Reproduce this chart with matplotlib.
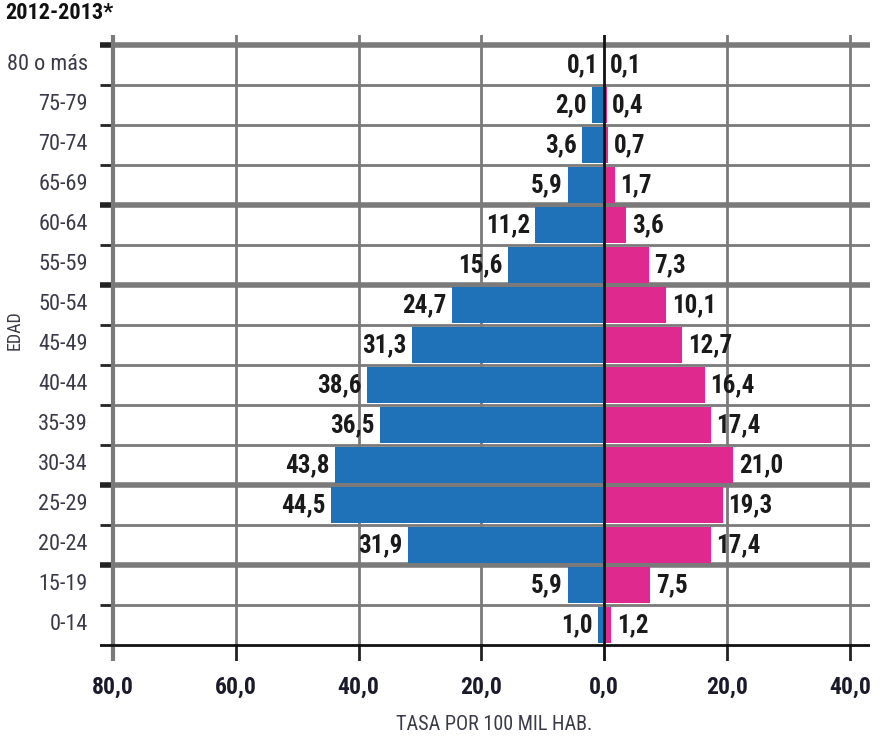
import matplotlib
matplotlib.use("Agg")
import matplotlib.pyplot as plt
from matplotlib import font_manager

edades = ['0-14', '15-19', '20-24', '25-29', '30-34', '35-39', '40-44', '45-49',
          '50-54', '55-59', '60-64', '65-69', '70-74', '75-79', '80 o más']
izquierda = [1.0, 5.9, 31.9, 44.5, 43.8, 36.5, 38.6, 31.3, 24.7, 15.6, 11.2, 5.9, 3.6, 2.0, 0.1]
derecha = [1.2, 7.5, 17.4, 19.3, 21.0, 17.4, 16.4, 12.7, 10.1, 7.3, 3.6, 1.7, 0.7, 0.4, 0.1]
xticks = [-80, -60, -40, -20, 0, 20, 40]
xtick_labels = ['80,0', '60,0', '40,0', '20,0', '0,0', '20,0', '40,0']
# row boundaries drawn with a heavier line
limites_gruesos = [1.5, 3.5, 8.5, 10.5, 14.5]

# look for a narrow font, the original uses a condensed DIN-like face
nombres = {f.name for f in font_manager.fontManager.ttflist}
fuente, ancho = 'Roboto', 'normal'
for cand in ['Liberation Sans Narrow', 'Roboto Condensed', 'Open Sans Condensed',
             'DejaVu Sans Condensed', 'Noto Sans Condensed']:
    if cand in nombres:
        fuente = cand
        break
else:
    cond = [f for f in font_manager.fontManager.ttflist
            if str(f.stretch) in ('condensed', 'semi-condensed', 'extra-condensed')
            and f.name in ('DejaVu Sans', 'Noto Sans', 'Open Sans', 'Roboto', 'Liberation Sans')]
    if cond:
        fuente, ancho = cond[0].name, cond[0].stretch
plt.rcParams['font.family'] = [fuente, 'DejaVu Sans']
plt.rcParams['font.stretch'] = ancho

azul = '#1f72b8'
rosa = '#e0298f'
gris = '#7a7a7a'

fig = plt.figure(figsize=(8.85, 7.36), dpi=100)
ax = fig.add_axes([100 / 885, 1 - 661 / 736, 770 / 885, 626 / 736])
ax.set_xlim(-82.1, 43.3)
ax.set_ylim(-0.9, 14.75)
for s in ax.spines.values():
    s.set_visible(False)
ax.set_xticks([])
ax.set_yticks([])

y = list(range(len(edades)))

# horizontal lines between rows
for i in range(len(edades)):
    b = i + 0.5
    lw = 4 if b in limites_gruesos else 2
    ax.plot([-80, 43.3], [b, b], color=gris, lw=lw, zorder=1, solid_capstyle='butt')
    ax.plot([-82.1, -80], [b, b], color='#222222', lw=lw, zorder=1, solid_capstyle='butt')

# vertical grid lines
for t in xticks:
    if t == 0:
        continue
    lw = 3 if t == -80 else 2
    ax.plot([t, t], [-0.5, 14.75], color=gris, lw=lw, zorder=1)
    ax.plot([t, t], [-0.9, -0.5], color=gris if t == -80 else '#222222', lw=lw, zorder=1)

# bottom axis line
ax.plot([-82.1, 43.3], [-0.5, -0.5], color='#111111', lw=2, zorder=3)

ax.barh(y, [-v for v in izquierda], height=0.88, color=azul, zorder=2)
ax.barh(y, derecha, height=0.88, color=rosa, zorder=2)

# center line
ax.plot([0, 0], [-0.9, 14.75], color='#111111', lw=2, zorder=4)

tam = 18 if fuente != 'Roboto' else 14
fmt = lambda v: f'{v:.1f}'.replace('.', ',')
for yi, v in zip(y, izquierda):
    ax.annotate(fmt(v), (-v, yi), xytext=(-4, 0), textcoords='offset points',
                ha='right', va='center', fontsize=tam, fontweight='bold', color='#1a1a1a', zorder=5)
for yi, v in zip(y, derecha):
    ax.annotate(fmt(v), (v, yi), xytext=(4, 0), textcoords='offset points',
                ha='left', va='center', fontsize=tam, fontweight='bold', color='#1a1a1a', zorder=5)

# category labels
for yi, lab in zip(y, edades):
    ax.text(-84.1, yi, lab, ha='right', va='center', fontsize=tam - 2, color='#3a3a48')
# x tick labels
for t, lab in zip(xticks, xtick_labels):
    ax.text(t, -1.55, lab, ha='center', va='center', fontsize=tam - 1, fontweight='bold', color='#1a1a2a')

fig.text(494 / 885, 1 - 724 / 736, 'TASA POR 100 MIL HAB.', ha='center', va='center',
         fontsize=14.5, color='#3a3a48')
fig.text(15 / 885, 1 - 330 / 736, 'EDAD', ha='center', va='center', rotation=90,
         fontsize=13, color='#3a3a48')
fig.text(5 / 885, 1 - 13 / 736, '2012-2013*', ha='left', va='center',
         fontsize=16, fontweight='bold', color='#111111')

fig.savefig('out.png', dpi=100)
